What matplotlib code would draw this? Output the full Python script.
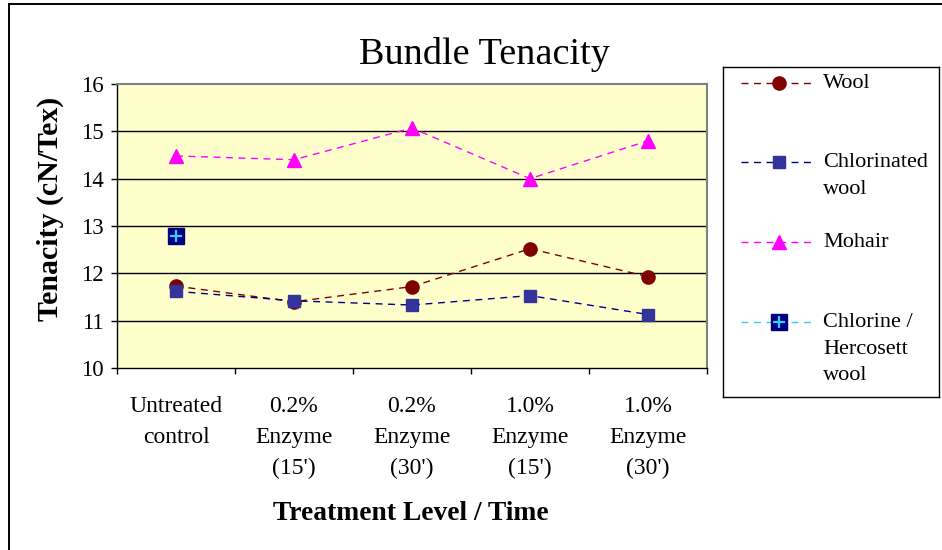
import matplotlib
matplotlib.use("Agg")
import matplotlib.pyplot as plt
import numpy as np
from matplotlib.lines import Line2D

plt.rcParams['font.family'] = ['Liberation Serif', 'DejaVu Serif']

categories = ["Untreated\ncontrol", "0.2%\nEnzyme\n(15')", "0.2%\nEnzyme\n(30')",
              "1.0%\nEnzyme\n(15')", "1.0%\nEnzyme\n(30')"]
wool = [11.73, 11.40, 11.72, 12.52, 11.93]
chlorinated = [11.62, 11.42, 11.33, 11.53, 11.13]
mohair = [14.48, 14.40, 15.07, 14.00, 14.80]
hercosett = [12.78, np.nan, np.nan, np.nan, np.nan]
yticks = [10, 11, 12, 13, 14, 15, 16]
series_labels = ["Wool", "Chlorinated\nwool", "Mohair", "Chlorine /\nHercosett\nwool"]

W, H = 942, 550
fig = plt.figure(figsize=(W / 100, H / 100), dpi=100)

def fx(px):
    return px / W

def fy(py):
    return 1 - py / H

# plot area
L, R, T, B = 117, 707, 84, 368
ax = fig.add_axes([fx(L), fy(B), fx(R - L), (B - T) / H])
ax.set_facecolor('#FFFFCC')
x = np.arange(len(categories))
ax.set_xlim(-0.5, len(categories) - 0.5)
ax.set_ylim(10, 16)

for yv in yticks[1:-1]:
    ax.axhline(yv, color='black', lw=1.0, zorder=1)

dash = (5, 4)
ax.plot(x, wool, color='#800000', lw=1, dashes=dash, marker='o', ms=9.5,
        mfc='#800000', mec='#800000', zorder=3)
ax.plot(x, chlorinated, color='#000080', lw=1, dashes=dash, marker='s', ms=8.5,
        mfc='#333399', mec='#333399', zorder=3)
ax.plot(x, mohair, color='#FF00FF', lw=1, dashes=dash, marker='^', ms=10.5,
        mfc='#FF00FF', mec='#FF00FF', zorder=3)
ax.plot(x, hercosett, color='#33CCFF', lw=1, dashes=dash, marker='s', ms=11.5,
        mfc='#000080', mec='#000080', zorder=3)
ax.plot(x, hercosett, ls='none', marker='+', ms=9, mec='#33CCFF', mew=1.6, zorder=4)

ax.set_yticks(yticks)
ax.set_yticklabels([str(v) for v in yticks], fontsize=16.5)
ax.tick_params(axis='y', direction='out', length=4.5, width=1, pad=5, colors='black')

ax.set_xticks(np.arange(-0.5, len(categories), 1.0))
ax.set_xticklabels([])
ax.tick_params(axis='x', which='major', direction='out', length=4.5, width=1, colors='black')
ax.set_xticks(x, minor=True)
ax.set_xticklabels(categories, minor=True, fontsize=17, linespacing=1.62)
ax.tick_params(axis='x', which='minor', length=0, pad=20)

for s in ['top', 'right']:
    ax.spines[s].set_color('#808080')
    ax.spines[s].set_linewidth(1.5)
for s in ['left', 'bottom']:
    ax.spines[s].set_color('black')
    ax.spines[s].set_linewidth(1.0)

fig.text(fx(484), fy(64), "Bundle Tenacity", fontsize=27.5, ha='center', va='baseline')
fig.text(fx(50), fy(209), "Tenacity (cN/Tex)", fontsize=21.5, fontweight='bold',
         rotation=90, ha='center', va='center')
fig.text(fx(411), fy(513), "Treatment Level / Time", fontsize=19.8, fontweight='bold',
         ha='center', va='center')

# figure border (left and top)
fig.add_artist(Line2D([fx(9), fx(9)], [fy(4), 0], transform=fig.transFigure,
                      color='black', lw=1.4))
fig.add_artist(Line2D([fx(9), 1], [fy(4), fy(4)], transform=fig.transFigure,
                      color='black', lw=1.4))

# legend drawn in its own pixel-space axes
LL, LR, LT, LB = 723, 939, 67, 397
lax = fig.add_axes([fx(LL), fy(LB), fx(LR - LL), (LB - LT) / H])
lax.set_xlim(LL, LR)
lax.set_ylim(LB, LT)
lax.set_xticks([])
lax.set_yticks([])
for s in lax.spines.values():
    s.set_color('black')
    s.set_linewidth(1.0)

leg_styles = [
    dict(color='#800000', marker='o', ms=9.5, mfc='#800000', mec='#800000'),
    dict(color='#000080', marker='s', ms=8.5, mfc='#333399', mec='#333399'),
    dict(color='#FF00FF', marker='^', ms=10.5, mfc='#FF00FF', mec='#FF00FF'),
    dict(color='#33CCFF', marker='s', ms=11.5, mfc='#000080', mec='#000080'),
]
leg_y = [83, 162, 242, 322]
for yy, st, lab in zip(leg_y, leg_styles, series_labels):
    lax.plot([741, 812], [yy, yy], lw=1, dashes=dash, color=st['color'])
    lax.plot([779], [yy], ls='none', marker=st['marker'], ms=st['ms'],
             mfc=st['mfc'], mec=st['mec'])
    lax.text(823, yy - 9, lab, fontsize=16, ha='left', va='top', linespacing=1.55)
lax.plot([779], [leg_y[3]], ls='none', marker='+', ms=9, mec='#33CCFF', mew=1.6)

fig.savefig("out.png", dpi=100, facecolor='white')
